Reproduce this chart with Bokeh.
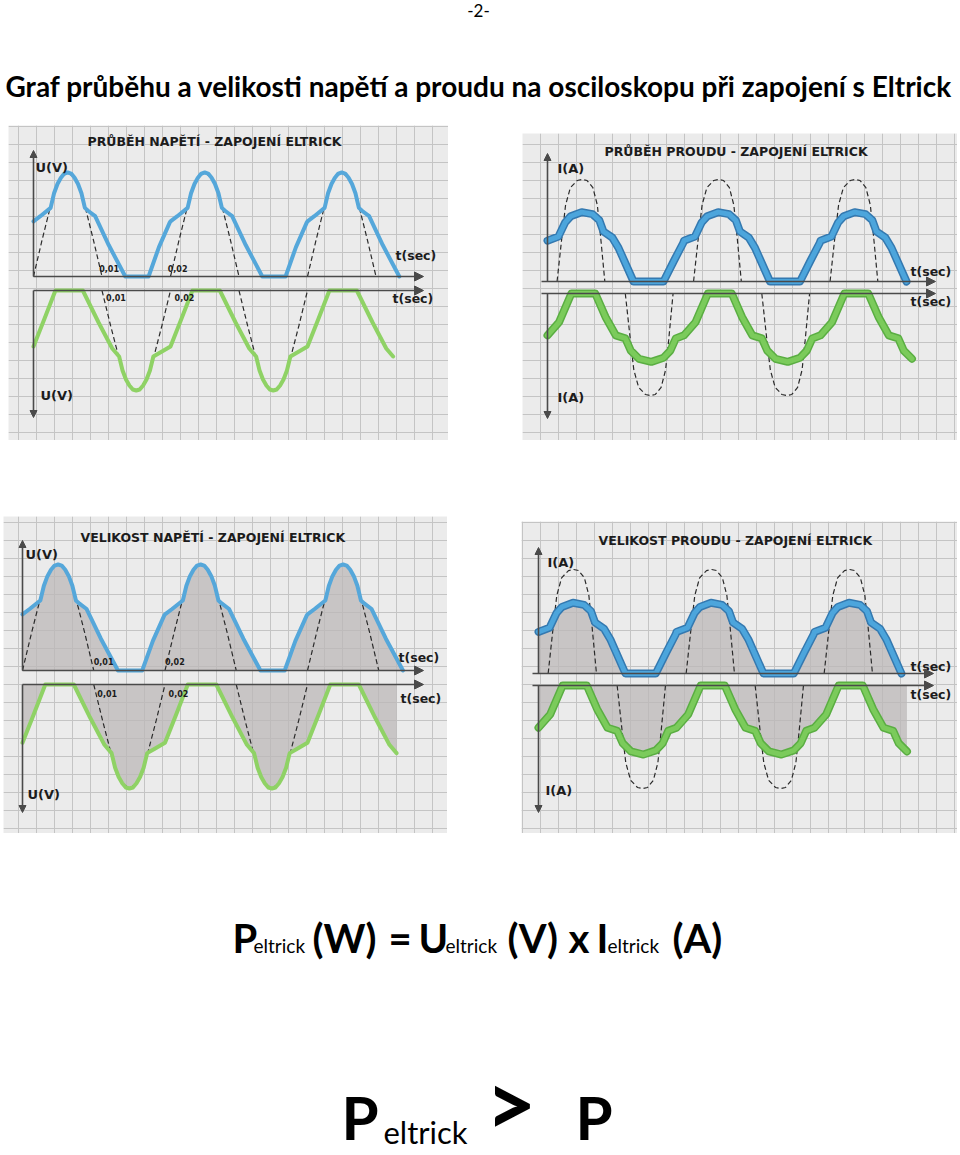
from bokeh.plotting import figure
from bokeh.layouts import column, row
from bokeh.models import Range1d, Grid, SingleIntervalTicker, Arrow, NormalHead, Spacer
from bokeh.core.properties import value
from bokeh.embed import file_html
from bokeh.resources import INLINE

# ---------------- data (time in ms, value relative to sine peak) -------------
PERIOD_MS = 20
# voltage on Eltrick, upper trace (blue), one period
U_T = [0, 1.0, 2.5, 3.0, 3.5, 4.0, 4.5, 5.0, 5.5, 6.0, 6.5, 7.0, 7.5, 8.0, 9.0, 11.0, 13.4, 16.8, 18.3, 19.9]
U_V = [0.53, 0.58, 0.66, 0.80, 0.89, 0.95, 0.99, 1.00, 0.99, 0.95, 0.89, 0.80, 0.66, 0.63, 0.58, 0.30, 0.0, 0.0, 0.28, 0.52]
U_END = 53.4
# voltage, lower trace (green), one period
UN_T = [0, 1.5, 3.2, 7.2, 9.5, 11.5, 12.5, 13.0, 13.5, 14.0, 14.5, 15.0, 15.5, 16.0, 16.5, 17.0, 17.5, 18.5]
UN_V = [-0.56, -0.30, 0.0, 0.0, -0.32, -0.58, -0.66, -0.80, -0.89, -0.95, -0.99, -1.0, -0.99, -0.95, -0.89, -0.80, -0.66, -0.62]
UN_END = 52.5
# mains voltage half wave (dashed)
US_T = [0, 1.25, 2.5, 3.25, 4.0, 5.0, 6.0, 6.75, 7.5, 8.75, 10]
US_V = [0, 0.35, 0.68, 0.85, 0.95, 1.0, 0.95, 0.85, 0.68, 0.35, 0]
US_UP_START = [0, 20, 40]
US_LO_START = [10, 30]

# current on Eltrick, upper trace (blue), one period
I_T = [0, 1.6, 2.6, 3.4, 5.0, 6.6, 7.6, 8.2, 9.5, 10.4, 12.6, 17.0, 18.5, 19.9]
I_V = [0.40, 0.44, 0.58, 0.64, 0.68, 0.66, 0.60, 0.49, 0.43, 0.33, 0.0, 0.0, 0.20, 0.38]
I_END = 52.6
# current, lower trace (green), one period
IN_T = [0, 1.7, 3.5, 7.0, 8.5, 10.0, 11.4, 12.2, 13.4, 15.2, 17.0, 18.0, 18.8]
IN_V = [-0.41, -0.28, 0.0, 0.0, -0.23, -0.41, -0.44, -0.56, -0.64, -0.67, -0.63, -0.56, -0.44]
IN_END = 53.4
# mains current pulse (dashed)
IS_T = [1.4, 2.15, 2.65, 3.35, 4.35, 5.1, 5.8, 6.65, 7.3, 7.75, 8.4]
IS_V = [0, 0.46, 0.75, 0.92, 0.99, 1.0, 0.99, 0.92, 0.75, 0.46, 0]
IS_UP_START = [0, 20, 40]
IS_LO_START = [10, 30]

TICK_T = [10, 20]
TICK_LABELS = ["0,01", "0,02"]

PAGE_TITLE = "Graf průběhu a velikosti napětí a proudu na osciloskopu při zapojení s Eltrick"

# ---------------- styles ----------------
PAPER = "#ebebeb"
GRID = "#c4c4c4"
AX = "#4a4a4a"
DASH = "#2a2a2a"
FILL = "#bcb8b8"
BLUE_U = "#55a7da"
GREEN_U = "#8fd265"
BLUE_I_DARK = "#3479b0"
BLUE_I = "#4ca5dc"
GREEN_I_DARK = "#5aae42"
GREEN_I = "#7bcb5b"
LFONT = value("DejaVu Sans")
PFONT = value("Lato")


def tile(T, V, end, n=3):
    ts, vs = [], []
    for k in range(n):
        for t, v in zip(T, V):
            tt = t + PERIOD_MS * k
            if tt <= end:
                ts.append(tt)
                vs.append(v)
    return ts, vs


def make_panel(box, t0, pxms, up_axis, up_unit, lo_axis, lo_unit):
    x0, x1, y0, y1 = box
    p = figure(width=x1 - x0, height=y1 - y0, output_backend="svg", toolbar_location=None,
               x_axis_location=None, y_axis_location=None, min_border=0,
               x_range=Range1d((x0 - t0) / pxms, (x1 - t0) / pxms),
               y_range=Range1d((up_axis - y1) / up_unit, (up_axis - y0) / up_unit))
    p.extra_y_ranges = {"lo": Range1d((lo_axis - y1) / lo_unit, (lo_axis - y0) / lo_unit),
                        "py": Range1d(y1, y0)}
    p.extra_x_ranges = {"px": Range1d(x0, x1)}
    p.background_fill_color = PAPER
    p.border_fill_color = "white"
    p.outline_line_color = None
    p.center = []
    for d in (0, 1):
        p.add_layout(Grid(dimension=d, ticker=SingleIntervalTicker(interval=18),
                          x_range_name="px", y_range_name="py",
                          grid_line_color=GRID, grid_line_width=1))
    return p


def arrow(p, xs, ys, xe, ye, size=9):
    p.add_layout(Arrow(x_start=xs, y_start=ys, x_end=xe, y_end=ye, x_range_name="px", y_range_name="py",
                       line_color=AX, line_width=1.6,
                       end=NormalHead(size=size, fill_color=AX, line_color=AX, line_width=1)))


def label(p, x, y, txt, size, data_x=False):
    kw = dict(y_range_name="py")
    if not data_x:
        kw["x_range_name"] = "px"
    p.text(x=x, y=y, text=txt, text_font=LFONT, text_font_style="bold", text_font_size=size,
           text_color="#1c1c1c", text_align="left", text_baseline="middle", **kw)


def draw_axes(p, ox, up_y, lo_y, x_end, up_top, lo_bot, x_start=None):
    xs = ox if x_start is None else x_start
    arrow(p, xs, up_y, x_end, up_y)
    arrow(p, xs, lo_y, x_end, lo_y)
    arrow(p, ox, up_y, ox, up_top, size=7)
    arrow(p, ox, lo_y, ox, lo_bot, size=7)


def voltage_panel(box, t0, pxms, up_axis, up_unit, lo_axis, lo_unit, filled, cfg):
    p = make_panel(box, t0, pxms, up_axis, up_unit, lo_axis, lo_unit)
    ut, uv = tile(U_T, U_V, U_END)
    nt, nv = tile(UN_T, UN_V, UN_END)
    if filled:
        p.varea(x=ut, y1=0, y2=uv, fill_color=FILL, fill_alpha=0.75)
        p.varea(x=nt, y1=0, y2=nv, fill_color=FILL, fill_alpha=0.75, y_range_name="lo")
    draw_axes(p, t0, up_axis, lo_axis, cfg["x_end"], cfg["up_top"], cfg["lo_bot"])
    p.multi_line(xs=[[t + s for t in US_T] for s in US_UP_START], ys=[US_V for _ in US_UP_START],
                 line_color=DASH, line_width=1.2, line_dash="5 3")
    p.multi_line(xs=[[t + s for t in US_T] for s in US_LO_START], ys=[[-v for v in US_V] for _ in US_LO_START],
                 line_color=DASH, line_width=1.2, line_dash="5 3", y_range_name="lo")
    p.line(ut, uv, line_color=BLUE_U, line_width=4, line_join="round", line_cap="round")
    p.line(nt, nv, line_color=GREEN_U, line_width=4, line_join="round", line_cap="round", y_range_name="lo")
    label(p, [cfg["title"][0]], [cfg["title"][1]], [cfg["title"][2]], "12.5px")
    label(p, [cfg["uv_up"][0]], [cfg["uv_up"][1]], ["U(V)"], "13px")
    label(p, [cfg["uv_lo"][0]], [cfg["uv_lo"][1]], ["U(V)"], "13px")
    label(p, [cfg["ts_up"][0]], [cfg["ts_up"][1]], ["t(sec)"], "12.5px")
    label(p, [cfg["ts_lo"][0]], [cfg["ts_lo"][1]], ["t(sec)"], "12.5px")
    label(p, [t + cfg["tick_dx_up"] for t in TICK_T], [cfg["tick_up_y"]] * 2, TICK_LABELS, "8px", data_x=True)
    label(p, [t + cfg["tick_dx_lo"] for t in TICK_T], [cfg["tick_lo_y"]] * 2, TICK_LABELS, "8px", data_x=True)
    return p


def current_panel(box, t0, pxms, up_axis, up_unit, lo_axis, lo_unit, filled, cfg):
    p = make_panel(box, t0, pxms, up_axis, up_unit, lo_axis, lo_unit)
    it, iv = tile(I_T, I_V, I_END)
    nt, nv = tile(IN_T, IN_V, IN_END)
    if filled:
        p.varea(x=it, y1=0, y2=iv, fill_color=FILL, fill_alpha=0.75)
        p.varea(x=nt, y1=0, y2=nv, fill_color=FILL, fill_alpha=0.75, y_range_name="lo")
    draw_axes(p, t0, up_axis, lo_axis, cfg["x_end"], cfg["up_top"], cfg["lo_bot"], x_start=t0 - 6)
    p.multi_line(xs=[[t + s for t in IS_T] for s in IS_UP_START], ys=[IS_V for _ in IS_UP_START],
                 line_color=DASH, line_width=1.2, line_dash="5 3")
    p.multi_line(xs=[[t + s for t in IS_T] for s in IS_LO_START], ys=[[-v for v in IS_V] for _ in IS_LO_START],
                 line_color=DASH, line_width=1.2, line_dash="5 3", y_range_name="lo")
    p.line(it, iv, line_color=BLUE_I_DARK, line_width=8, line_join="round", line_cap="round")
    p.line(it, iv, line_color=BLUE_I, line_width=5, line_join="round", line_cap="round")
    p.line(nt, nv, line_color=GREEN_I_DARK, line_width=8, line_join="round", line_cap="round", y_range_name="lo")
    p.line(nt, nv, line_color=GREEN_I, line_width=5, line_join="round", line_cap="round", y_range_name="lo")
    label(p, [cfg["title"][0]], [cfg["title"][1]], [cfg["title"][2]], "12.5px")
    label(p, [cfg["ia_up"][0]], [cfg["ia_up"][1]], ["I(A)"], "13px")
    label(p, [cfg["ia_lo"][0]], [cfg["ia_lo"][1]], ["I(A)"], "13px")
    label(p, [cfg["ts_up"][0]], [cfg["ts_up"][1]], ["t(sec)"], "12.5px")
    label(p, [cfg["ts_lo"][0]], [cfg["ts_lo"][1]], ["t(sec)"], "12.5px")
    return p


tl = voltage_panel((8, 448, 125, 440), 33, 6.85, 276, 104, 290, 100, False, dict(
    x_end=423, up_top=150, lo_bot=417,
    title=(87, 141, "PRŮBĚH NAPĚTÍ - ZAPOJENÍ ELTRICK"),
    uv_up=(35, 167), uv_lo=(40, 395), ts_up=(395, 255), ts_lo=(392, 298),
    tick_dx_up=-0.4, tick_up_y=268, tick_dx_lo=0.6, tick_lo_y=297))

tr = current_panel((522, 957, 133, 440), 547, 6.825, 281, 102, 293, 102, False, dict(
    x_end=935, up_top=153, lo_bot=418,
    title=(604, 151, "PRŮBĚH PROUDU - ZAPOJENÍ ELTRICK"),
    ia_up=(557, 168), ia_lo=(557, 397), ts_up=(910, 271), ts_lo=(910, 301)))

bl = voltage_panel((3, 447, 516, 833), 22, 7.125, 670, 106, 684, 104, True, dict(
    x_end=423, up_top=540, lo_bot=812,
    title=(80, 537, "VELIKOST NAPĚTÍ - ZAPOJENÍ ELTRICK"),
    uv_up=(25, 554), uv_lo=(27, 794), ts_up=(398, 657), ts_lo=(400, 698),
    tick_dx_up=0.0, tick_up_y=661, tick_dx_lo=0.5, tick_lo_y=693))

br = current_panel((521, 957, 521, 833), 538, 6.9, 673, 104, 685, 103, True, dict(
    x_end=933, up_top=547, lo_bot=812,
    title=(598, 540, "VELIKOST PROUDU - ZAPOJENÍ ELTRICK"),
    ia_up=(547, 562), ia_lo=(545, 790), ts_up=(910, 666), ts_lo=(910, 694)))


def text_fig(x0, x1, y0, y1):
    p = figure(width=x1 - x0, height=y1 - y0, x_range=Range1d(x0, x1), y_range=Range1d(y1, y0),
               output_backend="svg", toolbar_location=None, x_axis_location=None, y_axis_location=None,
               min_border=0)
    p.center = []
    p.outline_line_color = None
    p.background_fill_color = "white"
    p.border_fill_color = "white"
    return p


def ptext(p, x, y, txt, size, bold=True, align="left"):
    p.text(x=[x], y=[y], text=[txt], text_font=PFONT, text_font_style="bold" if bold else "normal",
           text_font_size=size, text_color="black", text_align=align, text_baseline="middle")


header = text_fig(0, 960, 0, 125)
ptext(header, 478, 10, "-2-", "17px", bold=False, align="center")
ptext(header, 5, 85, PAGE_TITLE, "28px")

footer = text_fig(0, 960, 833, 1155)
for x, txt, big in [(232, "P", True), (253, "eltrick", False), (312, "(W)", True), (388, "=", True),
                    (418, "U", True), (445, "eltrick", False), (507, "(V)", True), (568, "x", True),
                    (596, "I", True), (607, "eltrick", False), (672, "(A)", True)]:
    ptext(footer, x, 937 if big else 945, txt, "40px" if big else "19px", bold=big)
ptext(footer, 341, 1116, "P", "60px")
ptext(footer, 383, 1131, "eltrick", "31px", bold=False)
ptext(footer, 485, 1101, ">", "88px")
ptext(footer, 575, 1116, "P", "60px")

layout = column(
    header,
    row(Spacer(width=8, height=315), tl, Spacer(width=74, height=315),
        column(Spacer(width=435, height=8), tr, spacing=0), Spacer(width=3, height=315), spacing=0),
    Spacer(width=960, height=76),
    row(Spacer(width=3, height=317), bl, Spacer(width=74, height=317),
        column(Spacer(width=436, height=5), br, spacing=0), Spacer(width=3, height=317), spacing=0),
    footer,
    spacing=0,
)

open("out.html", "w").write(file_html(layout, INLINE))
